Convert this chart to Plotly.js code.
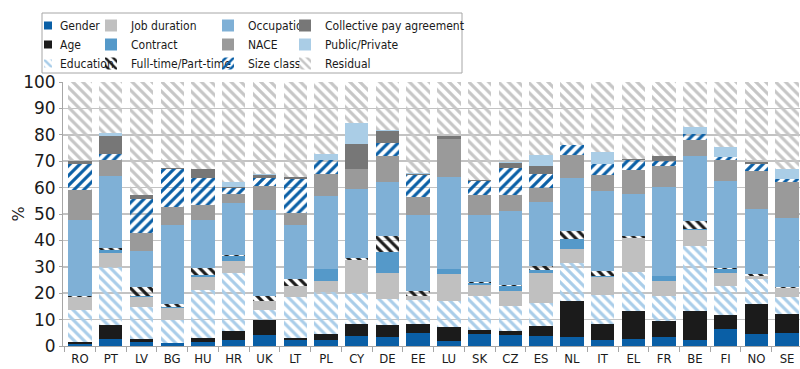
<!DOCTYPE html>
<html>
<head>
<meta charset="utf-8">
<script src="https://cdn.plot.ly/plotly-3.0.1.min.js"></script>
<style>html,body{margin:0;padding:0;background:#fff;}#chart{width:800px;height:369px;}</style>
</head>
<body>
<div id="chart"></div>
<script>
var countries = ["RO","PT","LV","BG","HU","HR","UK","LT","PL","CY","DE","EE","LU","SK","CZ","ES","NL","IT","EL","FR","BE","FI","NO","SE"];

var gender      = [0.9, 2.5, 1.5, 1.1, 1.5, 2.1, 4.0, 2.1, 2.1, 3.7, 3.4, 4.9, 1.9, 4.4, 4.0, 3.7, 3.4, 2.1, 2.5, 3.4, 2.1, 6.3, 4.4, 4.9];
var age         = [0.5, 5.3, 1.0, 0.0, 1.5, 3.4, 5.7, 0.9, 2.3, 4.8, 4.4, 3.3, 5.3, 1.5, 1.5, 3.8, 13.6, 6.1, 10.7, 6.1, 11.1, 5.3, 11.4, 7.1];
var education   = [12.1, 22.1, 12.2, 8.8, 18.1, 22.2, 3.8, 15.5, 16.0, 11.4, 10.1, 9.3, 9.8, 12.9, 9.8, 8.8, 14.4, 11.2, 14.8, 9.3, 24.5, 11.0, 9.7, 6.6];
var jobDuration = [5.0, 5.3, 3.8, 4.5, 5.1, 4.4, 3.5, 4.4, 4.4, 12.6, 9.7, 1.6, 10.4, 4.2, 5.7, 11.4, 5.2, 6.7, 13.0, 5.8, 6.4, 5.1, 0.9, 3.2];
var contract    = [0.0, 1.3, 0.5, 0.5, 0.6, 2.1, 0.0, 0.0, 4.2, 0.0, 8.0, 0.0, 1.6, 0.9, 1.6, 1.0, 3.8, 0.4, 0.0, 1.9, 0.4, 1.4, 0.0, 0.0];
var fullPart    = [0.4, 0.5, 3.5, 1.0, 2.9, 0.4, 1.8, 2.5, 0.0, 1.0, 5.9, 1.9, 0.0, 0.4, 0.6, 1.5, 3.0, 1.8, 0.5, 0.0, 2.7, 0.4, 1.0, 0.6];
var occupation  = [28.8, 27.3, 13.6, 30.1, 17.9, 19.7, 32.6, 20.6, 28.0, 25.9, 20.6, 28.8, 35.0, 25.3, 28.0, 24.4, 20.2, 30.3, 16.2, 33.7, 24.6, 33.1, 24.4, 26.1];
var nace        = [11.4, 6.1, 6.8, 6.8, 5.7, 3.3, 9.1, 4.5, 8.0, 7.6, 9.7, 6.6, 14.3, 7.6, 6.1, 5.4, 8.6, 6.1, 8.8, 7.8, 6.1, 7.8, 14.4, 13.6];
var sizeClass   = [9.8, 2.5, 12.6, 14.3, 10.4, 2.3, 3.3, 12.6, 5.6, 0.0, 5.1, 8.2, 0.0, 5.3, 10.1, 5.3, 3.8, 4.2, 3.8, 2.0, 2.5, 1.3, 2.9, 1.0];
var collective  = [1.2, 6.6, 1.6, 0.2, 3.3, 0.5, 0.8, 1.0, 0.0, 9.5, 4.4, 0.6, 1.1, 0.4, 1.8, 2.8, 0.0, 0.0, 0.6, 1.9, 0.0, 0.0, 0.5, 0.0];
var publicPriv  = [0.0, 1.0, 0.0, 0.0, 0.0, 1.9, 0.4, 0.0, 2.0, 8.1, 0.4, 0.4, 0.0, 0.0, 0.4, 4.2, 0.0, 4.7, 0.0, 0.0, 2.5, 3.8, 0.0, 4.0];
var residual    = [29.9, 19.5, 42.9, 32.7, 33.0, 37.7, 35.0, 35.9, 27.4, 15.4, 18.3, 34.4, 20.6, 37.1, 30.4, 27.7, 24.0, 26.4, 29.1, 28.1, 17.1, 24.5, 30.4, 32.9];

var yTicks = [0, 10, 20, 30, 40, 50, 60, 70, 80, 90, 100];

var cond = "DejaVu Sans Condensed, Roboto, sans-serif";

function solid(name, vals, color, legend, rank) {
  return {type: "bar", name: name, x: countries, y: vals, legend: legend, legendrank: rank,
          marker: {color: color, line: {width: 0}}, hoverinfo: "name+y"};
}
function hatch(name, vals, color, shape, legend, rank) {
  return {type: "bar", name: name, x: countries, y: vals, legend: legend, legendrank: rank,
          marker: {color: color, line: {width: 0},
                   pattern: {shape: shape, fillmode: "replace", size: 7, solidity: 0.45, fgcolor: color}},
          hoverinfo: "name+y"};
}

var data = [
  solid("Gender", gender, "#0a5fa6", "legend", 1),
  solid("Age", age, "#1b1b1b", "legend", 2),
  hatch("Education", education, "#a9cde9", "\\", "legend", 3),
  solid("Job duration", jobDuration, "#c0c0c0", "legend2", 1),
  solid("Contract", contract, "#5599c9", "legend2", 2),
  hatch("Full-time/Part-time", fullPart, "#1b1b1b", "\\", "legend2", 3),
  solid("Occupation", occupation, "#7fb0d6", "legend3", 1),
  solid("NACE", nace, "#9a9a9a", "legend3", 2),
  hatch("Size class", sizeClass, "#0a5fa6", "/", "legend3", 3),
  solid("Collective pay agreement", collective, "#777777", "legend4", 1),
  solid("Public/Private", publicPriv, "#aacde6", "legend4", 2),
  hatch("Residual", residual, "#c6c6c6", "\\", "legend4", 3)
];

var W = 737, H = 264, L = 63, B = 346;
function px2x(p) { return (p - L) / W; }
function py2y(p) { return (B - p) / H; }

function leg(xpx) {
  return {x: px2x(xpx), xanchor: "left", y: py2y(11), yanchor: "top",
          orientation: "v", traceorder: "normal", bgcolor: "rgba(0,0,0,0)",
          borderwidth: 0, font: {family: cond, size: 12, color: "#1a1a1a"},
          itemwidth: 30, tracegroupgap: 0};
}

var layout = {
  width: 800, height: 369,
  margin: {l: 63, r: 0, t: 82, b: 23, pad: 0, autoexpand: false},
  paper_bgcolor: "#ffffff", plot_bgcolor: "#ffffff",
  barmode: "stack", bargap: 0.24,
  showlegend: true,
  legend: leg(20),
  legend2: leg(91),
  legend3: leg(208),
  legend4: leg(285),
  xaxis: {
    type: "category", range: [-0.553, 23.42],
    showgrid: false, zeroline: false,
    showline: true, linecolor: "#a6a6a6", linewidth: 1,
    ticks: "outside", tickson: "boundaries", ticklen: 5, tickcolor: "#a6a6a6", tickwidth: 1,
    tickfont: {family: cond, size: 13, color: "#1a1a1a"}
  },
  yaxis: {
    range: [0, 100], tickvals: yTicks, ticktext: yTicks.map(String),
    showgrid: true, gridcolor: "#c3c3c3", gridwidth: 1.5,
    zeroline: false, showline: true, linecolor: "#a6a6a6", linewidth: 1,
    ticks: "outside", ticklen: 3, tickcolor: "#a6a6a6",
    tickfont: {family: "DejaVu Sans, sans-serif", size: 17, color: "#1a1a1a"},
    title: {text: "%", font: {family: "DejaVu Sans, sans-serif", size: 16, color: "#1a1a1a"}, standoff: 2}
  },
  shapes: [{
    type: "rect", xref: "paper", yref: "paper",
    x0: px2x(42), x1: px2x(462), y0: py2y(73), y1: py2y(13),
    line: {color: "#a6a6a6", width: 1}, fillcolor: "rgba(0,0,0,0)", layer: "above"
  }]
};

var SMALL = "M4,4H-4V-4H4Z";
function polish(gd) {
  var items = gd.querySelectorAll("g.traces");
  items.forEach(function (item) {
    try {
      var text = item.querySelector("text.legendtext");
      var paths = item.querySelectorAll("g.legendpoints path");
      if (!text || !paths.length) return;
      var tb = text.getBoundingClientRect();
      paths.forEach(function (path) {
        var cur = path.getAttribute("transform") || "";
        if (!path.hasAttribute("data-orig") || cur.indexOf("translate(20,0)") === 0 && cur.split("translate").length === 2) {
          path.setAttribute("data-orig", cur);
        }
        var orig = path.getAttribute("data-orig");
        if (path.getAttribute("d") !== SMALL) path.setAttribute("d", SMALL);
        path.setAttribute("transform", orig);
        var pb = path.getBoundingClientRect();
        var dx = (tb.left - 12) - (pb.left + pb.right) / 2;
        var want = orig + " translate(" + dx.toFixed(1) + ",0)";
        path.setAttribute("transform", want);
      });
    } catch (e) {}
  });
  try {
    var yt = gd.querySelector("text.ytitle");
    if (yt) {
      var cur = yt.getAttribute("transform") || "";
      if (!yt.hasAttribute("data-orig") || cur.indexOf("translate(0,8)") < 0) yt.setAttribute("data-orig", cur);
      var want = yt.getAttribute("data-orig") + " translate(0,8)";
      if (cur !== want) yt.setAttribute("transform", want);
    }
  } catch (e) {}
}

Plotly.newPlot("chart", data, layout, {displayModeBar: false, staticPlot: true}).then(function (gd) {
  gd.on("plotly_afterplot", function () { polish(gd); });
  polish(gd);
  [30, 100, 250, 500, 1000, 2000].forEach(function (t) { setTimeout(function () { polish(gd); }, t); });
});
</script>
</body>
</html>
